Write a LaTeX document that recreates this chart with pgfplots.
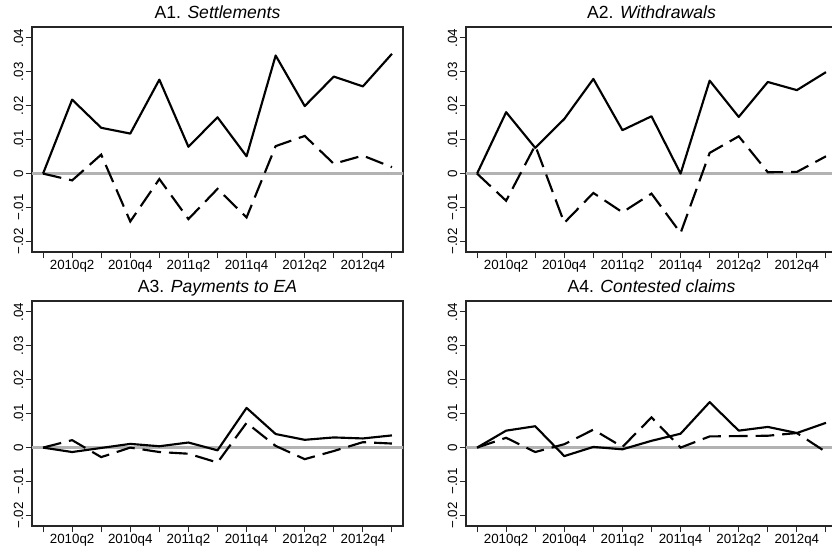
\documentclass[border=0pt]{standalone}
\usepackage{pgfplots}
\pgfplotsset{compat=1.18}
\usepackage{pgfplotstable}
\usepackage{fontspec}
\setmainfont{Liberation Sans}

\pgfplotstableread{
x s d
0 0 0
1 .0218 -.0020
2 .0135 .0056
3 .0118 -.0141
4 .0277 -.0016
5 .0079 -.0134
6 .0166 -.0045
7 .0051 -.0129
8 .0348 .0081
9 .0199 .0111
10 .0286 .0029
11 .0257 .0053
12 .0353 .0019
}\tA
\pgfplotstableread{
x s d
0 0 0
1 .0181 -.0080
2 .0076 .0083
3 .0161 -.0145
4 .0279 -.0057
5 .0128 -.0114
6 .0169 -.0059
7 .0000 -.0175
8 .0274 .0061
9 .0167 .0110
10 .0270 .0004
11 .0246 .0005
12 .0299 .0051
}\tB
\pgfplotstableread{
x s d
0 0 0
1 -.0013 .0022
2 -.0001 -.0028
3 .0011 .0000
4 .0004 -.0013
5 .0015 -.0018
6 -.0008 -.0044
7 .0117 .0073
8 .0040 .0005
9 .0023 -.0034
10 .0030 -.0010
11 .0027 .0016
12 .0036 .0012
}\tC
\pgfplotstableread{
x s d
0 0 0
1 .0050 .0029
2 .0063 -.0013
3 -.0025 .0010
4 .0002 .0053
5 -.0005 .0002
6 .0020 .0089
7 .0041 .0000
8 .0134 .0033
9 .0050 .0034
10 .0061 .0035
11 .0043 .0043
12 .0073 -.0013
}\tD

\pgfplotsset{
  panel/.style={
    scale only axis, width=278.25pt, height=168.75pt,
    anchor=south west,
    xmin=-0.38, xmax=12.38, ymin=-0.0231, ymax=0.0432,
    scaled y ticks=false, scaled x ticks=false,
    axis line style={black!85, line width=0.8pt},
    tick style={black!85, line width=0.8pt},
    tick align=outside, major tick length=4.8pt,
    xtick={0,...,12},
    xticklabels={,2010q2,,2010q4,,2011q2,,2011q4,,2012q2,,2012q4,},
    ytick={-0.02,-0.01,0,0.01,0.02,0.03,0.04},
    yticklabels={−.02,−.01,0,.01,.02,.03,.04},
    xtick pos=bottom, ytick pos=left,
    ticklabel style={font=\fontsize{10}{11}\selectfont},
    yticklabel style={rotate=90, anchor=south, inner sep=1.5pt},
    xticklabel style={inner sep=1.5pt},
    title style={anchor=base, yshift=0.5pt, inner sep=0pt, font=\fontsize{13.2}{15}\selectfont},
    clip=true,
  },
  sol/.style={black, line width=1.6pt, line join=round},
  das/.style={black, line width=1.6pt, dash pattern=on 14pt off 6pt},
  zer/.style={black!30, line width=1.7pt, forget plot},
}

\begin{document}
\begin{tikzpicture}
\begin{axis}[panel, at={(24pt,-189pt)}, title={A1. \textit{Settlements}}]
\addplot[zer] coordinates {(-1,0) (13,0)};
\addplot[sol] table[x=x,y=s]{\tA};
\addplot[das] table[x=x,y=d]{\tA};
\end{axis}
\begin{axis}[panel, at={(349.5pt,-189pt)}, title={A2. \textit{Withdrawals}}]
\addplot[zer] coordinates {(-1,0) (13,0)};
\addplot[sol] table[x=x,y=s]{\tB};
\addplot[das] table[x=x,y=d]{\tB};
\end{axis}
\begin{axis}[panel, at={(24pt,-394.5pt)}, title={A3. \textit{Payments to EA}}]
\addplot[zer] coordinates {(-1,0) (13,0)};
\addplot[sol] table[x=x,y=s]{\tC};
\addplot[das] table[x=x,y=d]{\tC};
\end{axis}
\begin{axis}[panel, at={(349.5pt,-394.5pt)}, title={A4. \textit{Contested claims}}]
\addplot[zer] coordinates {(-1,0) (13,0)};
\addplot[sol] table[x=x,y=s]{\tD};
\addplot[das] table[x=x,y=d]{\tD};
\end{axis}
\pgfresetboundingbox
\useasboundingbox (0,0) rectangle (624pt,-414.75pt);
\end{tikzpicture}
\end{document}
